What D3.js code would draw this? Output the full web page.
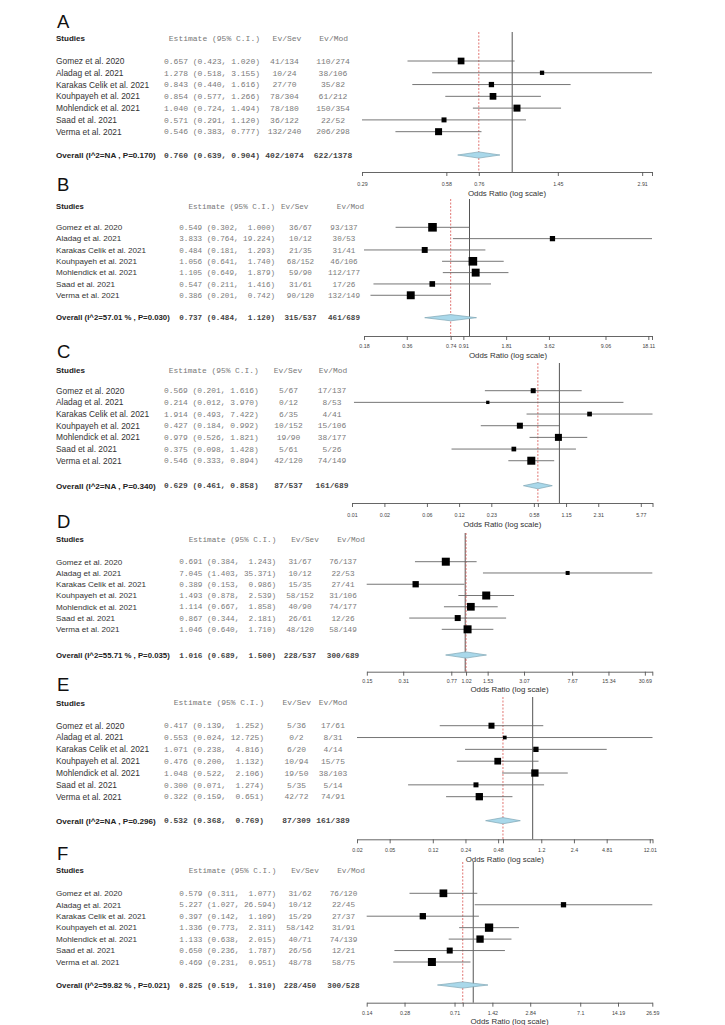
<!DOCTYPE html>
<html><head><meta charset="utf-8">
<script src="https://cdn.jsdelivr.net/npm/d3@7"></script>
<style>body{margin:0;background:#fff} svg text{white-space:pre}</style>
</head><body><svg id="c" width="725" height="1025"></svg>
<script>
// ---------------- DATA ----------------
const studies = ["Gomez et al. 2020","Aladag et al. 2021","Karakas Celik et al. 2021","Kouhpayeh et al. 2021","Mohlendick et al. 2021","Saad et al. 2021","Verma et al. 2021"];
const panelLetters = ["A","B","C","D","E","F"];

const estA = [0.657,1.278,0.843,0.854,1.040,0.571,0.546];
const loA  = [0.423,0.518,0.440,0.577,0.724,0.291,0.383];
const hiA  = [1.020,3.155,1.616,1.266,1.494,1.120,0.777];
const sevA = ["41/134","10/24","27/70","78/304","78/180","36/122","132/240"];
const modA = ["110/274","38/106","35/82","61/212","150/354","22/52","206/298"];
const wA   = [17.3,7.1,10.8,17.3,18.9,9.6,18.9];

const estB = [0.549,3.833,0.484,1.056,1.105,0.547,0.386];
const loB  = [0.302,0.764,0.181,0.641,0.649,0.211,0.201];
const hiB  = [1.000,19.224,1.293,1.740,1.879,1.416,0.742];
const sevB = ["36/67","10/12","21/35","68/152","59/90","31/61","90/120"];
const modB = ["93/137","30/53","31/41","46/106","112/177","17/26","132/149"];
const wB   = [20.1,7.5,9.6,20.1,17.0,8.6,17.0];

const estC = [0.569,0.214,1.914,0.427,0.979,0.375,0.546];
const loC  = [0.201,0.012,0.493,0.184,0.526,0.098,0.333];
const hiC  = [1.616,3.970,7.422,0.992,1.821,1.428,0.894];
const sevC = ["5/67","0/12","6/35","10/152","19/90","5/61","42/120"];
const modC = ["17/137","8/53","4/41","15/106","38/177","5/26","74/149"];
const wC   = [10.9,4.8,9.6,15.7,21.4,9.6,27.9];

const estD = [0.691,7.045,0.389,1.493,1.114,0.867,1.046];
const loD  = [0.384,1.403,0.153,0.878,0.667,0.344,0.640];
const hiD  = [1.243,35.371,0.986,2.539,1.858,2.181,1.710];
const sevD = ["31/67","10/12","15/35","58/152","40/90","26/61","48/120"];
const modD = ["76/137","22/53","27/41","31/106","74/177","12/26","58/149"];
const wD   = [18.7,4.7,11.6,18.7,17.3,10.5,18.7];

const estE = [0.417,0.553,1.071,0.476,1.048,0.300,0.322];
const loE  = [0.139,0.024,0.238,0.200,0.522,0.071,0.159];
const hiE  = [1.252,12.725,4.816,1.132,2.106,1.274,0.651];
const sevE = ["5/36","0/2","6/20","10/94","19/50","5/35","42/72"];
const modE = ["17/61","8/31","4/14","15/75","38/103","5/14","74/91"];
const wE   = [14.2,5.4,11.1,17.7,21.0,9.8,21.0];

const estF = [0.579,5.227,0.397,1.336,1.133,0.650,0.469];
const loF  = [0.311,1.027,0.142,0.773,0.638,0.236,0.231];
const hiF  = [1.077,26.594,1.109,2.311,2.015,1.787,0.951];
const sevF = ["31/62","10/12","15/29","58/142","40/71","26/56","48/78"];
const modF = ["76/120","22/45","27/37","31/91","74/139","12/21","58/75"];
const wF   = [17.0,8.0,11.4,19.7,15.3,10.3,18.3];

const overallLabels = ["Overall (I^2=NA , P=0.170)","Overall (I^2=57.01 % , P=0.030)","Overall (I^2=NA , P=0.340)","Overall (I^2=55.71 % , P=0.035)","Overall (I^2=NA , P=0.296)","Overall (I^2=59.82 % , P=0.021)"];
const overallEst = [0.760,0.737,0.629,1.016,0.532,0.825];
const overallLo  = [0.639,0.484,0.461,0.689,0.368,0.519];
const overallHi  = [0.904,1.120,0.858,1.500,0.769,1.310];
const overallSev = ["402/1074","315/537","87/537","228/537","87/309","228/450"];
const overallMod = ["622/1378","461/689","161/689","300/689","161/389","300/528"];

const tickValsA = [0.291,0.582,0.760,1.455,2.91,3.155];
const tickLabsA = ["0.29","0.58","0.76","1.45","2.91",""];
const tickValsB = [0.181,0.362,0.737,0.905,1.81,3.62,9.05,18.11,19.224];
const tickLabsB = ["0.18","0.36","0.74","0.91","1.81","3.62","9.06","18.11",""];
const tickValsC = [0.0115,0.0231,0.0577,0.1154,0.2308,0.577,0.629,1.154,2.308,5.77,7.422];
const tickLabsC = ["0.01","0.02","0.06","0.12","0.23","0.58","","1.15","2.31","5.77",""];
const tickValsD = [0.1534,0.3068,0.767,1.016,1.534,3.068,7.67,15.34,30.69,35.371];
const tickLabsD = ["0.15","0.31","0.77","1.02","1.53","3.07","7.67","15.34","30.69",""];
const tickValsE = [0.024,0.048,0.12,0.24,0.48,0.532,1.2,2.4,4.81,12.01,12.725];
const tickLabsE = ["0.02","0.05","0.12","0.24","0.48","","1.2","2.4","4.81","12.01",""];
const tickValsF = [0.142,0.284,0.71,0.825,1.42,2.84,7.1,14.19,26.594];
const tickLabsF = ["0.14","0.28","0.71","","1.42","2.84","7.1","14.19","26.59"];

const panels = [
  {est:estA,lo:loA,hi:hiA,sev:sevA,mod:modA,w:wA,tv:tickValsA,tl:tickLabsA},
  {est:estB,lo:loB,hi:hiB,sev:sevB,mod:modB,w:wB,tv:tickValsB,tl:tickLabsB},
  {est:estC,lo:loC,hi:hiC,sev:sevC,mod:modC,w:wC,tv:tickValsC,tl:tickLabsC},
  {est:estD,lo:loD,hi:hiD,sev:sevD,mod:modD,w:wD,tv:tickValsD,tl:tickLabsD},
  {est:estE,lo:loE,hi:hiE,sev:sevE,mod:modE,w:wE,tv:tickValsE,tl:tickLabsE},
  {est:estF,lo:loF,hi:hiF,sev:sevF,mod:modF,w:wF,tv:tickValsF,tl:tickLabsF}
];

// ---------------- LAYOUT ----------------
const layout = [
 {sy:38,  first:61,    step:11.78, ovY:155,   axY:172,   tkY:184.5, ttY:193,  lY:28,  vTop:32,  estX:164,   sevX:284.5, sevHX:287,   modX:333,   modHX:333.7, L:362,   R:652,   fsN:8.4, fsM:8.0, sq:7.0},
 {sy:206, first:227.3, step:11.33, ovY:317.7, axY:336,   tkY:346.5, ttY:355,  lY:191, vTop:199, estX:179.3, sevX:300.5, sevHX:294.7, modX:344,   modHX:350.5, L:364,   R:652,   fsN:8.1, fsM:7.6, sq:8.6},
 {sy:370, first:390.7, step:11.67, ovY:485.7, axY:503,   tkY:515,   ttY:524,  lY:358, vTop:363, estX:164,   sevX:288.5, sevHX:288,   modX:332,   modHX:333,   L:352,   R:652.5, fsN:8.4, fsM:7.9, sq:8.0},
 {sy:539, first:561.7, step:11.27, ovY:655,   axY:671.7, tkY:681,   ttY:689,  lY:528, vTop:533, estX:179.3, sevX:300,   sevHX:305,   modX:343,   modHX:351,   L:366.7, R:652.3, fsN:8.1, fsM:7.7, sq:8.0},
 {sy:702.7,first:725.7,step:11.83, ovY:820.7, axY:839.3, tkY:850,   ttY:859,  lY:691, vTop:697, estX:164,   sevX:296.5, sevHX:296.7, modX:333,   modHX:333,   L:357,   R:652.5, fsN:8.4, fsM:7.95, sq:7.3},
 {sy:870.7,first:893.3,step:11.45, ovY:985,   axY:1002.7,tkY:1012.7,ttY:1021, lY:860, vTop:862, estX:179.3, sevX:300,   sevHX:305,   modX:343.5, modHX:351,   L:366.7, R:652.3, fsN:8.1, fsM:7.7, sq:8.3}
];

const SANS = "'Liberation Sans', Arial, sans-serif";
const MONO = "'Liberation Mono', 'Courier New', monospace";
const svg = d3.select("#c");

panels.forEach((p, i) => {
  const Ly = layout[i];
  const g = svg.append("g");
  const dom = d3.extent([...p.lo, ...p.hi, ...p.tv]);
  const x = d3.scaleLog().domain(dom).range([Ly.L, Ly.R]);
  const rowY = k => Ly.first + k * Ly.step;
  const size = d3.scaleSqrt().domain([0, d3.max(p.w)]).range([0, Ly.sq]);
  const hiW = d3.max([...p.hi, overallHi[i]], v => v.toFixed(3).length);
  const fmt = (e, l, h) => `${e.toFixed(3)} (${l.toFixed(3)}, ${h.toFixed(3).padStart(hiW, " ")})`;
  const estChars = fmt(p.est[0], p.lo[0], p.hi[0]).length;
  const estEnd = Ly.estX + estChars * 0.6 * Ly.fsM;

  // panel letter
  g.append("text").attr("x", 57).attr("y", Ly.lY).text(panelLetters[i])
    .attr("font-family", SANS).attr("font-size", 18.5).attr("fill", "#111");

  // headers
  g.append("text").attr("x", 56).attr("y", Ly.sy).attr("dy", "0.35em").text("Studies")
    .attr("font-family", SANS).attr("font-weight", "bold").attr("font-size", Ly.fsN - 0.4).attr("fill", "#222");
  g.append("text").attr("x", estEnd).attr("y", Ly.sy).attr("dy", "0.35em").attr("text-anchor", "end")
    .text("Estimate (95% C.I.)").attr("font-family", MONO).attr("font-size", Ly.fsM).attr("fill", "#777");
  g.append("text").attr("x", Ly.sevHX).attr("y", Ly.sy).attr("dy", "0.35em").attr("text-anchor", "middle")
    .text("Ev/Sev").attr("font-family", MONO).attr("font-size", Ly.fsM).attr("fill", "#777");
  g.append("text").attr("x", Ly.modHX).attr("y", Ly.sy).attr("dy", "0.35em").attr("text-anchor", "middle")
    .text("Ev/Mod").attr("font-family", MONO).attr("font-size", Ly.fsM).attr("fill", "#777");

  // study rows
  const rows = g.selectAll("g.row").data(studies).join("g").attr("class", "row");
  rows.append("text").attr("x", 56).attr("y", (d, k) => rowY(k)).attr("dy", "0.35em").text(d => d)
    .attr("font-family", SANS).attr("font-size", Ly.fsN).attr("fill", "#333");
  rows.append("text").attr("x", Ly.estX).attr("y", (d, k) => rowY(k)).attr("dy", "0.35em")
    .text((d, k) => fmt(p.est[k], p.lo[k], p.hi[k]))
    .attr("font-family", MONO).attr("font-size", Ly.fsM).attr("fill", "#7a7a7a");
  rows.append("text").attr("x", Ly.sevX).attr("y", (d, k) => rowY(k)).attr("dy", "0.35em").attr("text-anchor", "middle")
    .text((d, k) => p.sev[k]).attr("font-family", MONO).attr("font-size", Ly.fsM).attr("fill", "#7a7a7a");
  rows.append("text").attr("x", Ly.modX).attr("y", (d, k) => rowY(k)).attr("dy", "0.35em").attr("text-anchor", "middle")
    .text((d, k) => p.mod[k]).attr("font-family", MONO).attr("font-size", Ly.fsM).attr("fill", "#7a7a7a");

  // overall row text
  g.append("text").attr("x", 56).attr("y", Ly.ovY).attr("dy", "0.35em").text(overallLabels[i])
    .attr("font-family", SANS).attr("font-weight", "bold").attr("font-size", Ly.fsN - 0.3).attr("fill", "#222");
  g.append("text").attr("x", Ly.estX).attr("y", Ly.ovY).attr("dy", "0.35em")
    .text(fmt(overallEst[i], overallLo[i], overallHi[i]))
    .attr("font-family", MONO).attr("font-weight", "bold").attr("font-size", Ly.fsM).attr("fill", "#444");
  g.append("text").attr("x", Ly.sevX).attr("y", Ly.ovY).attr("dy", "0.35em").attr("text-anchor", "middle")
    .text(overallSev[i]).attr("font-family", MONO).attr("font-weight", "bold").attr("font-size", Ly.fsM).attr("fill", "#444");
  g.append("text").attr("x", Ly.modX).attr("y", Ly.ovY).attr("dy", "0.35em").attr("text-anchor", "middle")
    .text(overallMod[i]).attr("font-family", MONO).attr("font-weight", "bold").attr("font-size", Ly.fsM).attr("fill", "#444");

  // reference lines
  g.append("line").attr("x1", x(1)).attr("x2", x(1)).attr("y1", Ly.vTop).attr("y2", Ly.axY)
    .attr("stroke", "#555").attr("stroke-width", 1);
  g.append("line").attr("x1", x(overallEst[i])).attr("x2", x(overallEst[i])).attr("y1", Ly.vTop).attr("y2", Ly.axY)
    .attr("stroke", "#d9534f").attr("stroke-width", 0.8).attr("stroke-dasharray", "2,1.5");

  // CI lines
  g.selectAll("line.ci").data(studies).join("line").attr("class", "ci")
    .attr("x1", (d, k) => x(p.lo[k])).attr("x2", (d, k) => x(p.hi[k]))
    .attr("y1", (d, k) => rowY(k)).attr("y2", (d, k) => rowY(k))
    .attr("stroke", "#666").attr("stroke-width", 0.9);
  // squares
  g.selectAll("rect.pt").data(studies).join("rect").attr("class", "pt")
    .attr("x", (d, k) => x(p.est[k]) - size(p.w[k]) / 2)
    .attr("y", (d, k) => rowY(k) - size(p.w[k]) / 2)
    .attr("width", (d, k) => size(p.w[k])).attr("height", (d, k) => size(p.w[k]))
    .attr("fill", "#000");

  // diamond
  const dh = 3.1;
  const pts = [[x(overallLo[i]), Ly.ovY], [x(overallEst[i]), Ly.ovY - dh], [x(overallHi[i]), Ly.ovY], [x(overallEst[i]), Ly.ovY + dh]];
  g.append("polygon").attr("points", pts.map(q => q.join(",")).join(" "))
    .attr("fill", "#a9d8ea").attr("stroke", "#7fa6b5").attr("stroke-width", 0.7);

  // axis
  const axis = d3.axisBottom(x).tickValues(p.tv).tickFormat((d, j) => p.tl[j]).tickSize(4).tickSizeOuter(0);
  const ag = g.append("g").attr("transform", `translate(0,${Ly.axY})`).call(axis);
  ag.select(".domain").attr("stroke", "#555").attr("stroke-width", 0.9);
  ag.selectAll(".tick line").attr("stroke", "#555").attr("stroke-width", 0.9);
  ag.selectAll(".tick text").attr("y", Ly.tkY - Ly.axY).attr("dy", "0.35em")
    .attr("font-family", SANS).attr("font-size", 5.3).attr("fill", "#444");

  g.append("text").attr("x", (Ly.L + Ly.R) / 2).attr("y", Ly.ttY).attr("dy", "0.35em").attr("text-anchor", "middle")
    .text("Odds Ratio (log scale)").attr("font-family", SANS).attr("font-size", 7.9).attr("fill", "#333");
});
</script></body></html>
